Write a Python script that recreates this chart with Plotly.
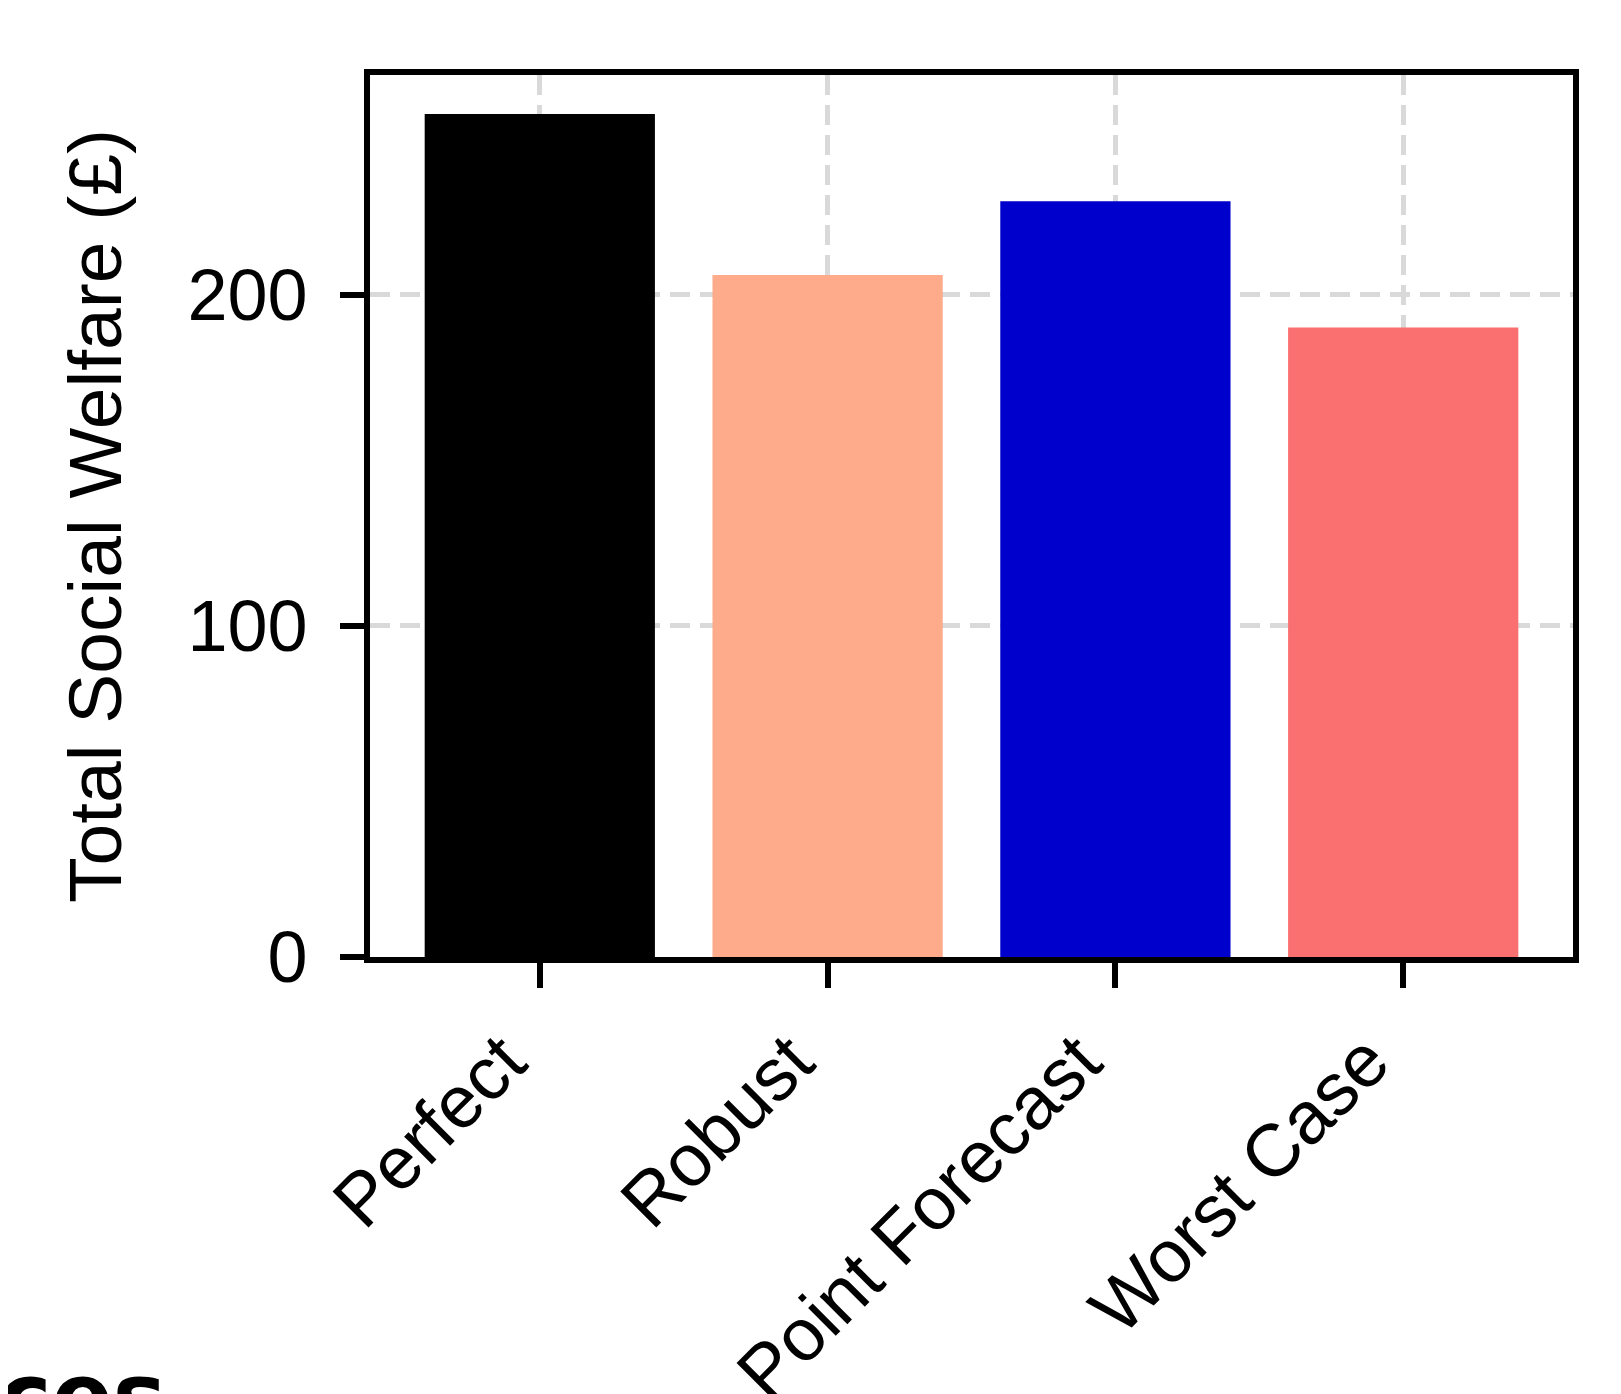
import plotly.graph_objects as go

categories = ["Perfect", "Robust", "Point Forecast", "Worst Case"]
welfare = [254.5, 205.9, 228.2, 190.1]
colors = ["#000000", "#FEAB8C", "#0000CC", "#FA7070"]
y_ticks = [0, 100, 200]

W, H = 1621, 1394
OFF = 8  # default page body margin
L, T = 370 - OFF, 75 - OFF
R = W - (1573 - OFF)
B = H - (957 - OFF)
PW, PH = W - L - R, H - T - B

fig = go.Figure()
fig.add_trace(go.Bar(
    x=categories, y=welfare, width=0.8,
    marker=dict(color=colors, line=dict(width=0)),
    showlegend=False,
))

font_family = "Liberation Sans, Arial, sans-serif"
grid = dict(showgrid=True, gridcolor="#d9d9d9", gridwidth=5, griddash="20px,10px")

fig.update_layout(
    width=W, height=H,
    margin=dict(l=L, r=R, t=T, b=B, pad=0, autoexpand=False),
    paper_bgcolor="white", plot_bgcolor="white",
    font=dict(family=font_family, color="black"),
    bargap=0.2,
)

fig.update_xaxes(
    range=[-0.59, 3.59], automargin=False,
    showline=True, linecolor="black", linewidth=6, mirror=True,
    ticks="outside", ticklen=25, tickwidth=6, tickcolor="black",
    tickangle=-45, tickfont=dict(size=74, family=font_family),
    ticklabelshift=-36,
    zeroline=False, **grid,
)
fig.update_yaxes(
    range=[0, 266.3], automargin=False,
    tickvals=y_ticks, ticktext=[str(v) for v in y_ticks],
    showline=True, linecolor="black", linewidth=6, mirror=True,
    ticks="outside", ticklen=24, tickwidth=6, tickcolor="black",
    tickfont=dict(size=72, family=font_family),
    ticklabelstandoff=18,
    zeroline=False, **grid,
    title=dict(text="Total Social Welfare (£)", font=dict(size=75, family=font_family), standoff=43),
)

fig.add_annotation(
    text="<b>cces</b>", xref="paper", yref="paper",
    x=(160 - L) / PW, y=(H - B - 1334) / PH,
    xanchor="right", yanchor="top", showarrow=False,
    font=dict(size=90, family="DejaVu Sans, sans-serif", color="black"),
)

fig.write_html("out.html")
